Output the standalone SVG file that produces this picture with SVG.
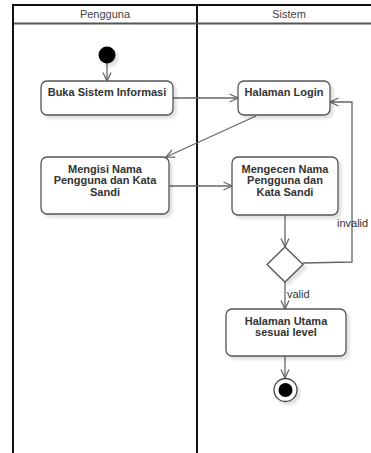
<svg xmlns="http://www.w3.org/2000/svg" width="371" height="453" viewBox="0 0 371 453">
  <style>
    .lane { stroke: #111; stroke-width: 2; fill: none; }
    .lane-head { stroke: #555; stroke-width: 2; fill: none; }
    .head { font-family: "Liberation Sans", Arial, sans-serif; font-size: 11px; fill: #444; text-anchor: middle; }
    .act rect { fill: #fff; stroke: #555; stroke-width: 1.3; }
    .act text { font-family: "Liberation Sans", Arial, sans-serif; font-size: 11px; font-weight: bold; fill: #333; text-anchor: middle; }
    .flow { stroke: #666; stroke-width: 1.3; fill: none; marker-end: url(#arrow); }
    .guard { font-family: "Liberation Sans", Arial, sans-serif; font-size: 11px; fill: #333; }
  </style>
  <defs>
    <marker id="arrow" viewBox="0 0 10 10" refX="9.5" refY="5" markerWidth="10" markerHeight="10" markerUnits="userSpaceOnUse" orient="auto">
      <path d="M1,1 L9.5,5 L1,9" fill="none" stroke="#666" stroke-width="1.3"/>
    </marker>
    <filter id="shadow" x="-20%" y="-20%" width="150%" height="160%">
      <feDropShadow dx="3" dy="3" stdDeviation="1.5" flood-color="#000" flood-opacity="0.12"/>
    </filter>
  </defs>

  <rect width="371" height="453" fill="#fff"/>

  <!-- swimlanes -->
  <g id="lanes">
    <line class="lane" x1="12" y1="5" x2="371" y2="5"/>
    <line class="lane" x1="13" y1="4" x2="13" y2="453"/>
    <line class="lane" x1="197" y1="4" x2="197" y2="453"/>
    <line class="lane-head" x1="14" y1="23.5" x2="371" y2="23.5"/>
    <text class="head" x="105" y="18">Pengguna</text>
    <text class="head" x="289" y="18">Sistem</text>
  </g>

  <!-- connectors -->
  <g id="connectors">
    <line class="flow" x1="107" y1="63" x2="107" y2="81"/>
    <line class="flow" x1="173" y1="98" x2="238" y2="98"/>
    <line class="flow" x1="256" y1="116" x2="166" y2="157"/>
    <line class="flow" x1="169" y1="186" x2="232" y2="186"/>
    <line class="flow" x1="285" y1="215" x2="285" y2="247"/>
    <polyline class="flow" points="303,263 352,262 352,102 330,102"/>
    <line class="flow" x1="285" y1="282" x2="285" y2="309"/>
    <line class="flow" x1="285" y1="356" x2="285" y2="378"/>
    <text class="guard" x="337" y="227">invalid</text>
    <text class="guard" x="287" y="298">valid</text>
  </g>

  <g id="start">
    <circle cx="107" cy="55" r="8.5" fill="#000" filter="url(#shadow)"/>
  </g>

  <g id="buka-sistem" class="act">
    <rect x="41" y="81" width="132" height="34" rx="6" filter="url(#shadow)"/>
    <text x="107" y="96">Buka Sistem Informasi</text>
  </g>

  <g id="halaman-login" class="act">
    <rect x="238" y="81" width="92" height="34" rx="6" filter="url(#shadow)"/>
    <text x="284" y="96">Halaman Login</text>
  </g>

  <g id="mengisi" class="act">
    <rect x="41" y="157" width="128" height="57" rx="6" filter="url(#shadow)"/>
    <text x="105" y="172.5">Mengisi Nama</text>
    <text x="105" y="184">Pengguna dan Kata</text>
    <text x="105" y="195.5">Sandi</text>
  </g>

  <g id="mengecen" class="act">
    <rect x="232" y="157" width="106" height="58" rx="6" filter="url(#shadow)"/>
    <text x="285" y="172.5">Mengecen Nama</text>
    <text x="285" y="184">Pengguna dan</text>
    <text x="285" y="195.5">Kata Sandi</text>
  </g>

  <g id="keputusan">
    <polygon points="285,247 303,264.5 285,282 267,264.5" fill="#fff" stroke="#555" stroke-width="1.3" filter="url(#shadow)"/>
  </g>

  <g id="halaman-utama" class="act">
    <rect x="226" y="309" width="120" height="47" rx="6" filter="url(#shadow)"/>
    <text x="286" y="325">Halaman Utama</text>
    <text x="286" y="336">sesuai level</text>
  </g>

  <g id="end">
    <circle cx="285.5" cy="390" r="11.5" fill="#fff" stroke="#444" stroke-width="1.3" filter="url(#shadow)"/>
    <circle cx="285.5" cy="390" r="7" fill="#000"/>
  </g>
</svg>
